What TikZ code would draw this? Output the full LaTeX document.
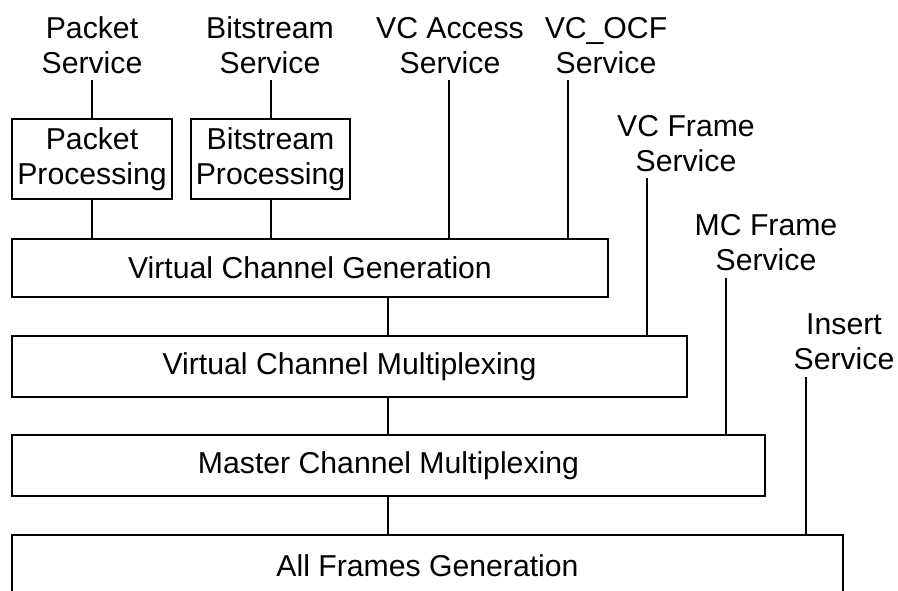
\documentclass[tikz,border=0pt]{standalone}
\usepackage{fontspec}
\setmainfont{Liberation Sans}
\begin{document}
\begin{tikzpicture}[x=1pt,y=-1pt,
  every node/.style={font=\fontsize{30.2}{35}\selectfont},
  box/.style={draw,line width=1.3pt,rectangle,inner sep=0pt,align=center},
  lbl/.style={anchor=south,inner sep=0pt,align=center},
  conn/.style={line width=1.3pt}]
\useasboundingbox (0,0) rectangle (898,590);
\clip (0,0) rectangle (898,590);
% boxes
\node[box,minimum width=160,minimum height=80] (pp) at (92,159) {Packet\\Processing};
\node[box,minimum width=159,minimum height=80] (bp) at (270.5,159) {Bitstream\\Processing};
\node[box,minimum width=596,minimum height=58] (vcg) at (310,268) {Virtual Channel Generation};
\node[box,minimum width=675,minimum height=61] (vcm) at (349.5,366.5) {Virtual Channel Multiplexing};
\node[box,minimum width=753,minimum height=61] (mcm) at (388.5,465.5) {Master Channel Multiplexing};
\node[box,minimum width=831,minimum height=62] (afg) at (427.5,566) {All Frames Generation};
% service labels
\node[lbl] (ps) at (92,74) {Packet\\Service};
\node[lbl] (bs) at (270,74) {Bitstream\\Service};
\node[lbl] (vas) at (450,74) {VC Access\\Service};
\node[lbl] (ocf) at (606,74) {VC\_OCF\\Service};
\node[lbl] (vfs) at (686,172) {VC Frame\\Service};
\node[lbl] (mfs) at (766,271) {MC Frame\\Service};
\node[lbl] (ins) at (844,370) {Insert\\Service};
% connector top ends
\coordinate (psT) at (92,80);
\coordinate (bsT) at (271,80);
\coordinate (vasT) at (449,80);
\coordinate (ocfT) at (568,80);
\coordinate (vfsT) at (647,178);
\coordinate (mfsT) at (726,278);
\coordinate (insT) at (806,377);
\coordinate (cx) at (388,0);
% connectors
\draw[conn] (psT) -- (psT |- pp.north);
\draw[conn] (bsT) -- (bsT |- bp.north);
\draw[conn] (pp.south) -- (pp.south |- vcg.north);
\draw[conn] (bsT |- bp.south) -- (bsT |- vcg.north);
\draw[conn] (vasT) -- (vasT |- vcg.north);
\draw[conn] (ocfT) -- (ocfT |- vcg.north);
\draw[conn] (cx |- vcg.south) -- (cx |- vcm.north);
\draw[conn] (vfsT) -- (vfsT |- vcm.north);
\draw[conn] (cx |- vcm.south) -- (cx |- mcm.north);
\draw[conn] (mfsT) -- (mfsT |- mcm.north);
\draw[conn] (cx |- mcm.south) -- (cx |- afg.north);
\draw[conn] (insT) -- (insT |- afg.north);
\end{tikzpicture}
\end{document}
